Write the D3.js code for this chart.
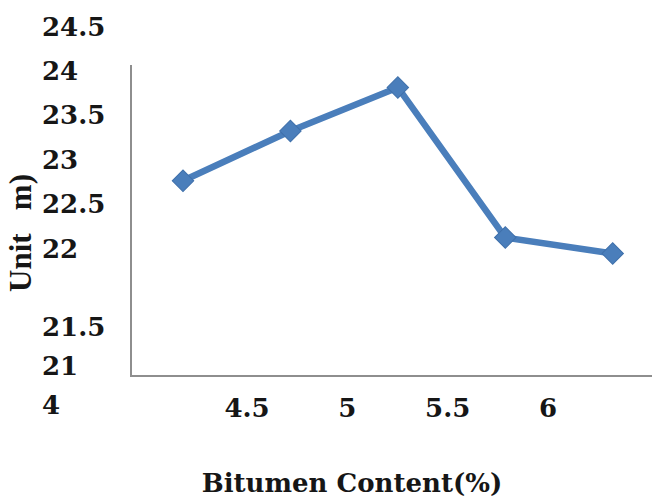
<!DOCTYPE html>
<html>
<head>
<meta charset="utf-8">
<script src="https://cdn.jsdelivr.net/npm/d3@7"></script>
<style>
  body { margin: 0; background: #fff; }
  svg text { font-family: "DejaVu Serif", serif; font-weight: bold; fill: #161616; }
</style>
</head>
<body>
<div id="container"></div>
<script>
// bitumen content (%) and the measured values
var bitumen = [4, 4.5, 5, 5.5, 6];
var unitWeight = [22.76, 23.32, 23.81, 22.12, 21.94];

// tick labels as they appear on the figure
var yTickLabels = [24.5, 24, 23.5, 23, 22.5, 22];
var yLowerLabels = ["21.5", "21", "4"];
var xTickLabels = [4.5, 5, 5.5, 6];

var svgWidth = 652;
var svgHeight = 502;

var svg = d3.select("#container")
  .append("svg")
  .attr("width", svgWidth)
  .attr("height", svgHeight);

var data = bitumen.map(function(b, i) {
  return { x: b, y: unitWeight[i] };
});

var xScale = d3.scaleLinear()
  .domain([4, 6])
  .range([183, 612.7]);

var yScale = d3.scaleLinear()
  .domain([22, 24.5])
  .range([248.2, 26.2]);

// label scales (the typed labels do not sit on the plot grid)
var xLabelScale = d3.scaleLinear()
  .domain([4.5, 6])
  .range([247, 548]);

var yLowerScale = d3.scalePoint()
  .domain(yLowerLabels)
  .range([327, 405]);

// plot frame
svg.append("line")
  .attr("x1", 131).attr("x2", 131)
  .attr("y1", 65).attr("y2", 376)
  .attr("stroke", "#8e8e8e")
  .attr("stroke-width", 2);

svg.append("line")
  .attr("x1", 130).attr("x2", svgWidth)
  .attr("y1", 376).attr("y2", 376)
  .attr("stroke", "#8e8e8e")
  .attr("stroke-width", 2);

// y labels
svg.append("g")
  .selectAll("text")
  .data(yTickLabels)
  .enter()
  .append("text")
  .attr("x", 42)
  .attr("y", d => yScale(d))
  .attr("dy", "0.36em")
  .style("font-size", "26px")
  .text(d => d);

svg.append("g")
  .selectAll("text")
  .data(yLowerLabels)
  .enter()
  .append("text")
  .attr("x", 42)
  .attr("y", d => yLowerScale(d))
  .attr("dy", "0.36em")
  .style("font-size", "26px")
  .text(d => d);

// x labels
svg.append("g")
  .selectAll("text")
  .data(xTickLabels)
  .enter()
  .append("text")
  .attr("x", d => xLabelScale(d))
  .attr("y", 408)
  .attr("dy", "0.36em")
  .attr("text-anchor", "middle")
  .style("font-size", "26px")
  .text(d => d);

// axis titles
svg.append("text")
  .attr("transform", "translate(31, 292) rotate(-90)")
  .style("font-family", "'Liberation Serif', serif")
  .style("font-size", "31px")
  .style("white-space", "pre")
  .text("Unit   m)");

svg.append("text")
  .attr("x", 352)
  .attr("y", 483)
  .attr("dy", "0.36em")
  .attr("text-anchor", "middle")
  .style("font-size", "26px")
  .text("Bitumen Content(%)");

// series
var line = d3.line()
  .x(d => xScale(d.x))
  .y(d => yScale(d.y));

svg.append("path")
  .datum(data)
  .attr("d", line)
  .attr("fill", "none")
  .attr("stroke", "#4a7ebb")
  .attr("stroke-width", 6.5)
  .attr("stroke-linejoin", "round");

svg.append("g")
  .selectAll("path")
  .data(data)
  .enter()
  .append("path")
  .attr("d", d3.symbol().type(d3.symbolSquare).size(230))
  .attr("transform", d => `translate(${xScale(d.x)}, ${yScale(d.y)}) rotate(45)`)
  .attr("fill", "#4a7ebb")
  .attr("stroke", "#3f70ab")
  .attr("stroke-width", 1);
</script>
</body>
</html>
